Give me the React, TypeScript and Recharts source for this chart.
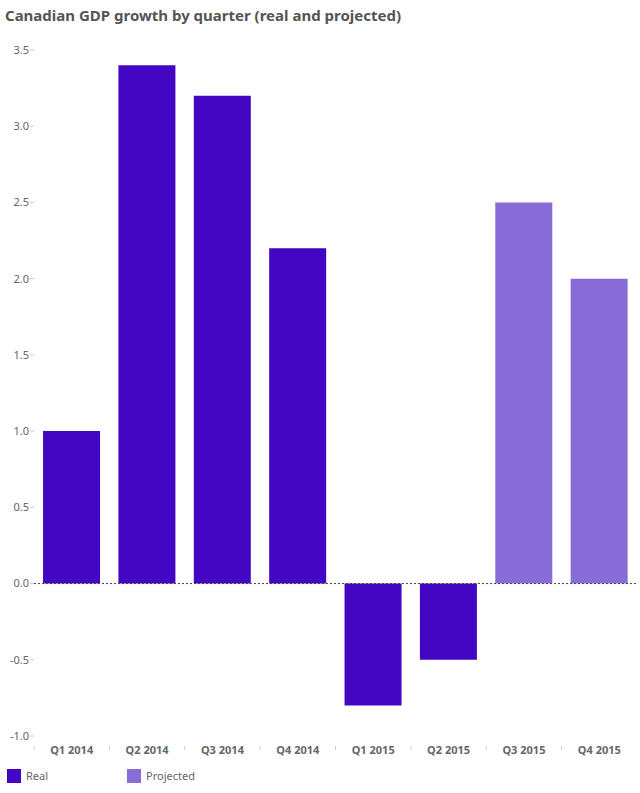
import React from 'react';
import { BarChart, Bar, XAxis, YAxis, Cell, ReferenceLine } from 'recharts';

const quarters = ['Q1 2014', 'Q2 2014', 'Q3 2014', 'Q4 2014', 'Q1 2015', 'Q2 2015', 'Q3 2015', 'Q4 2015'];
const growth = [1.0, 3.4, 3.2, 2.2, -0.8, -0.5, 2.5, 2.0];
const kinds = ['Real', 'Real', 'Real', 'Real', 'Real', 'Real', 'Projected', 'Projected'];
const yTicks = [-1.0, -0.5, 0.0, 0.5, 1.0, 1.5, 2.0, 2.5, 3.0, 3.5];

const COLORS: Record<string, string> = {
  Real: '#4306c2',
  Projected: '#876bd6',
};

const FONT = '"Noto Sans", "DejaVu Sans", sans-serif';
const CHART_W = 640;
const Y_W = 34;
const RIGHT = 3;

const data = quarters.map((q, i) => ({ quarter: q, value: growth[i], kind: kinds[i] }));

if (typeof document !== 'undefined') {
  document.body.style.margin = '0';
}

const bandWidth = (CHART_W - Y_W - RIGHT) / quarters.length;

const XTick = (props: any) => {
  const { x, y, payload } = props;
  return (
    <g transform={`translate(${x},${y})`}>
      <line x1={-bandWidth / 2} x2={-bandWidth / 2} y1={2} y2={6} stroke="#ccc" />
      <text x={0} y={10} textAnchor="middle" fill="#666" fontSize={11} fontWeight="bold" fontFamily={FONT}>
        {payload.value}
      </text>
    </g>
  );
};

const App: React.FC = () => {
  return (
    <div style={{ position: 'relative', width: 640, height: 793, background: '#fff', fontFamily: FONT }}>
      <div style={{ position: 'absolute', left: 5, top: 5, fontSize: 15, fontWeight: 'bold', color: '#555' }}>
        Canadian GDP growth by quarter (real and projected)
      </div>
      <div style={{ position: 'absolute', left: 0, top: 0 }}>
        <BarChart
          width={CHART_W}
          height={793}
          data={data}
          margin={{ top: 50, right: RIGHT, bottom: 27, left: 0 }}
          barCategoryGap="12%"
        >
          <YAxis
            width={Y_W}
            domain={[-1, 3.5]}
            ticks={yTicks}
            interval={0}
            axisLine={false}
            tickLine={{ stroke: '#ccc' }}
            tickSize={4}
            tickMargin={1}
            tickFormatter={(v: number) => v.toFixed(1)}
            tick={{ fill: '#666', fontSize: 11, fontFamily: FONT }}
          />
          <XAxis
            dataKey="quarter"
            height={30}
            axisLine={false}
            tickLine={false}
            interval={0}
            tick={<XTick />}
          />
          <ReferenceLine y={0} stroke="#444" strokeDasharray="2 2" />
          <Bar dataKey="value" isAnimationActive={false}>
            {data.map((d, i) => (
              <Cell key={`cell-${i}`} fill={COLORS[d.kind]} />
            ))}
          </Bar>
        </BarChart>
      </div>
      <div style={{ position: 'absolute', left: 7, top: 768, display: 'flex', fontSize: 11, color: '#666' }}>
        {Object.keys(COLORS).map((k) => (
          <div key={k} style={{ display: 'flex', alignItems: 'center', width: 120 }}>
            <span style={{ width: 14, height: 14, background: COLORS[k], marginRight: 5 }} />
            <span>{k}</span>
          </div>
        ))}
      </div>
    </div>
  );
};

export default App;
